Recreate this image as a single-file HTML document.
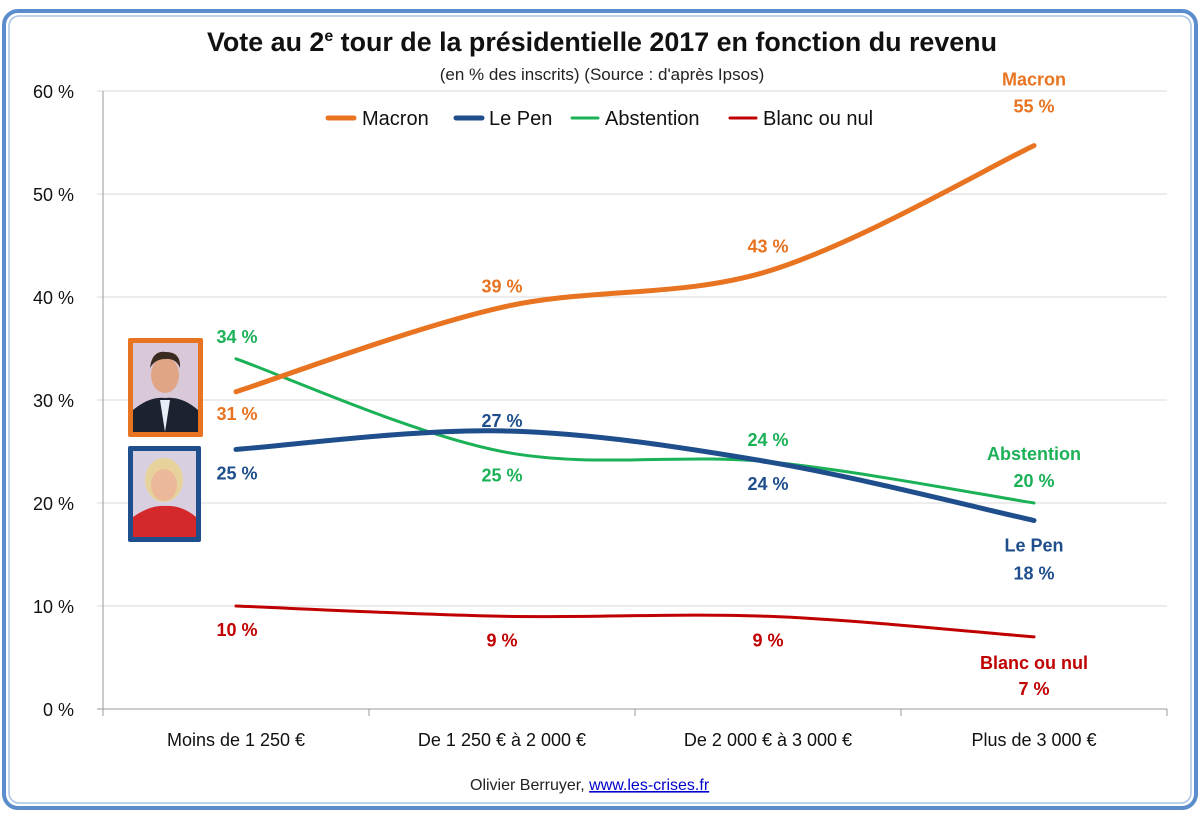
<!DOCTYPE html>
<html><head><meta charset="utf-8"><style>
html,body{margin:0;padding:0;background:#fff;}
body{width:1200px;height:812px;overflow:hidden;font-family:"Liberation Sans",sans-serif;}
</style></head><body>
<svg id="chart" width="1200" height="812" xmlns="http://www.w3.org/2000/svg" font-family="Liberation Sans, sans-serif">
<rect x="4" y="11" width="1192" height="797" rx="14" fill="#fff" stroke="#5b8dcc" stroke-width="4"/>
<rect x="9" y="16" width="1182" height="787" rx="10" fill="none" stroke="#a9c3e6" stroke-width="1.5"/>
<text x="602" y="51" text-anchor="middle" font-size="27" font-weight="bold" fill="#111" textLength="790" lengthAdjust="spacingAndGlyphs">Vote au 2<tspan font-size="16" dy="-10">e</tspan><tspan dy="10"> tour de la présidentielle 2017 en fonction du revenu</tspan></text>
<text x="602" y="80" text-anchor="middle" font-size="17" fill="#222">(en % des inscrits) (Source : d'après Ipsos)</text>
<g id="grid"></g><g id="axes"></g><g id="lines"></g><g id="labels"></g>
<g font-size="20" fill="#111">
<line x1="328" y1="118" x2="354" y2="118" stroke="#e87320" stroke-width="5" stroke-linecap="round"/><text x="362" y="125">Macron</text>
<line x1="456" y1="118" x2="482" y2="118" stroke="#1f4e8c" stroke-width="5" stroke-linecap="round"/><text x="489" y="125">Le Pen</text>
<line x1="572" y1="118" x2="598" y2="118" stroke="#1bb157" stroke-width="3" stroke-linecap="round"/><text x="605" y="125">Abstention</text>
<line x1="730" y1="118" x2="756" y2="118" stroke="#c00000" stroke-width="3" stroke-linecap="round"/><text x="763" y="125">Blanc ou nul</text>
</g>
<g>
<rect x="128" y="338" width="75" height="99" fill="#e87320" rx="2"/>
<rect x="133" y="343" width="65" height="89" fill="#d8c8d8"/>
<path d="M133 432 L133 410 Q150 396 165 398 Q182 396 198 410 L198 432Z" fill="#1c2230"/>
<path d="M160 400 L165 432 L170 400Z" fill="#e8eef5"/>
<ellipse cx="165" cy="375" rx="14" ry="18" fill="#e0a585"/>
<path d="M150 368 Q152 350 166 352 Q181 352 180 368 Q176 358 165 359 Q155 359 150 368Z" fill="#3a2a20"/>
</g>
<g>
<rect x="128" y="446" width="73" height="96" fill="#1f4e8c" rx="2"/>
<rect x="133" y="451" width="63" height="86" fill="#d8d0e0"/>
<path d="M133 537 L133 517 Q150 505 165 506 Q182 505 196 517 L196 537Z" fill="#d4282a"/>
<ellipse cx="164" cy="480" rx="19" ry="22" fill="#e6d29a"/>
<ellipse cx="164" cy="485" rx="13" ry="16" fill="#ecb89a"/>
</g>
<text x="470" y="790" font-size="16" fill="#222">Olivier Berruyer, <tspan fill="#0000cc" text-decoration="underline">www.les-crises.fr</tspan></text>
</svg>
<script>
const categories=["Moins de 1 250 €","De 1 250 € à 2 000 €","De 2 000 € à 3 000 €","Plus de 3 000 €"];
const macron=[30.8,39,42.5,54.7];
const lepen=[25.2,27,24,18.3];
const abstention=[34,25,24,20];
const blanc=[10,9,9,7];
const macronLabels=["31 %","39 %","43 %","55 %"];
const lepenLabels=["25 %","27 %","24 %","18 %"];
const abstLabels=["34 %","25 %","24 %","20 %"];
const blancLabels=["10 %","9 %","9 %","7 %"];
const yTicks=[0,10,20,30,40,50,60];
const NS="http://www.w3.org/2000/svg";
const L=103,R=1167,T=91,B=709,YMAX=60;
const bw=(R-L)/categories.length;
const xs=i=>L+bw*(i+0.5);
const ys=v=>B-(v/YMAX)*(B-T);
function mk(tag,attrs,parent,text){const e=document.createElementNS(NS,tag);for(const k in attrs)e.setAttribute(k,attrs[k]);if(text!==undefined)e.textContent=text;parent.appendChild(e);return e;}
const grid=document.getElementById('grid'),axes=document.getElementById('axes'),lines=document.getElementById('lines'),labels=document.getElementById('labels');
yTicks.forEach(t=>{
 const g=mk('line',{x1:97,x2:R,y1:ys(t),y2:ys(t),stroke:t===0?'#999':'#d9d9d9','stroke-width':1},grid);
 
 
 const tx=mk('text',{x:74,y:ys(t)+7,'text-anchor':'end','font-size':18,fill:'#111'},axes,t+' %');
 
 
});
mk('line',{x1:L,x2:L,y1:T,y2:B,stroke:'#999'},axes);
for(let i=0;i<=categories.length;i++){mk('line',{x1:L+bw*i,x2:L+bw*i,y1:B,y2:B+7,stroke:'#999'},axes);}
categories.forEach((c,i)=>{
 const t=mk('text',{x:xs(i),y:746,'text-anchor':'middle','font-size':18,fill:'#111'},axes,c);
 
 
});
function smooth(vals){
 const p=vals.map((v,i)=>[xs(i),ys(v)]);
 let d='M'+p[0][0]+' '+p[0][1];
 for(let i=0;i<p.length-1;i++){
  const p0=p[Math.max(0,i-1)],p1=p[i],p2=p[i+1],p3=p[Math.min(p.length-1,i+2)];
  const c1=[p1[0]+(p2[0]-p0[0])/6,p1[1]+(p2[1]-p0[1])/6];
  const c2=[p2[0]-(p3[0]-p1[0])/6,p2[1]-(p3[1]-p1[1])/6];
  d+=` C${c1[0]} ${c1[1]} ${c2[0]} ${c2[1]} ${p2[0]} ${p2[1]}`;
 }
 return d;
}
const series=[
 {name:'blanc',vals:blanc,color:'#c00000',w:3,labs:blancLabels,off:[30,30,30,58],last:'Blanc ou nul',lastOff:32},
 {name:'abstention',vals:abstention,color:'#1bb157',w:3,labs:abstLabels,off:[-16,30,-16,-16],last:'Abstention',lastOff:-43},
 {name:'lepen',vals:lepen,color:'#1f4e8c',w:5,labs:lepenLabels,off:[30,-4,28,59],last:'Le Pen',lastOff:31},
 {name:'macron',vals:macron,color:'#e87320',w:5,labs:macronLabels,off:[28,-15,-19,-33],last:'Macron',lastOff:-60},
];
series.forEach(s=>{
 const p=mk('path',{d:smooth(s.vals),fill:'none',stroke:s.color,'stroke-width':s.w,'stroke-linecap':'round'},lines);
 
 
 s.vals.forEach((v,i)=>{
  let x=xs(i),y=ys(v)+s.off[i];
  if(i===0)x=xs(0)+1;
  const t=mk('text',{x:x,y:y,'text-anchor':'middle','font-size':18,'font-weight':'bold',fill:s.color},labels,s.labs[i]);
  
  
 });
 const n=mk('text',{x:xs(3),y:ys(s.vals[3])+s.lastOff,'text-anchor':'middle','font-size':18,'font-weight':'bold',fill:s.color},labels,s.last);
 
 
});
</script>
</body></html>
